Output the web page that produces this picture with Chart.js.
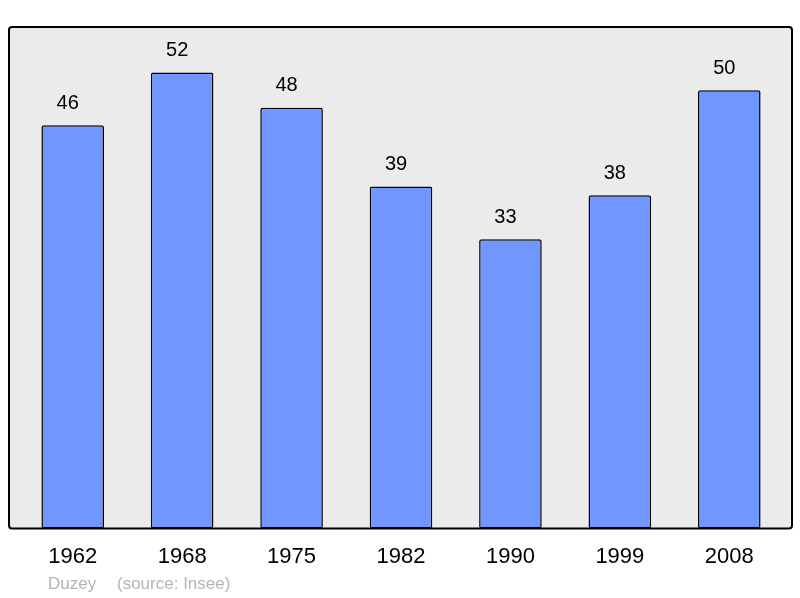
<!DOCTYPE html>
<html>
<head>
<meta charset="utf-8">
<script src="https://cdn.jsdelivr.net/npm/chart.js@4"></script>
<style>
  html, body { margin: 0; padding: 0; background: #ffffff; }
  #wrap { width: 800px; height: 598px; }
</style>
</head>
<body>
<div id="wrap"><canvas id="popChart" width="800" height="598"></canvas></div>
<script>
// Population of Duzey by census year
const years = ['1962', '1968', '1975', '1982', '1990', '1999', '2008'];
const population = [46, 52, 48, 39, 33, 38, 50];
const footerName = 'Duzey';
const footerSource = '(source: Insee)';

// Grey panel behind the bars, a bit wider than the chart area
const panelPlugin = {
    id: 'panel',
    beforeDraw(chart) {
        const { ctx, chartArea } = chart;
        const x0 = chartArea.left - 9;
        const x1 = chartArea.right + 8;
        const y0 = chartArea.top;
        const y1 = chartArea.bottom;
        ctx.save();
        ctx.beginPath();
        ctx.roundRect(x0, y0, x1 - x0, y1 - y0, 3);
        ctx.fillStyle = '#ebebeb';
        ctx.fill();
        ctx.lineWidth = 2;
        ctx.strokeStyle = '#000000';
        ctx.stroke();
        ctx.restore();
    }
};

// Value above each bar + footer caption
const labelPlugin = {
    id: 'valueLabels',
    afterDatasetsDraw(chart) {
        const { ctx } = chart;
        const meta = chart.getDatasetMeta(0);
        ctx.save();
        ctx.font = '20px "Liberation Sans", Arial, sans-serif';
        ctx.fillStyle = '#000000';
        ctx.textAlign = 'center';
        ctx.textBaseline = 'middle';
        meta.data.forEach((bar, i) => {
            ctx.fillText(String(population[i]), bar.x - 5, bar.y - 22);
        });
        ctx.font = '17px "Liberation Sans", Arial, sans-serif';
        ctx.fillStyle = '#b4b4b4';
        ctx.textAlign = 'left';
        ctx.fillText(footerName, 48, 584);
        ctx.fillText(footerSource, 117, 584);
        ctx.restore();
    }
};

function renderChart() {
    const ctx = document.getElementById('popChart').getContext('2d');
    new Chart(ctx, {
        type: 'bar',
        data: {
            labels: years,
            datasets: [{
                data: population,
                backgroundColor: '#7096ff',
                borderColor: '#000000',
                borderWidth: 1.5,
                borderRadius: 2,
                borderSkipped: false,
                barPercentage: 0.572,
                categoryPercentage: 1
            }]
        },
        options: {
            responsive: false,
            animation: false,
            layout: { padding: { left: 18, right: 16, top: 27, bottom: 13 } },
            plugins: {
                legend: { display: false },
                tooltip: { enabled: false }
            },
            scales: {
                x: {
                    offset: true,
                    grid: { display: false, drawTicks: false },
                    border: { display: false },
                    ticks: {
                        color: '#000000',
                        padding: 15,
                        font: { family: '"Liberation Sans", Arial, sans-serif', size: 22 }
                    }
                },
                y: {
                    display: false,
                    min: 0,
                    max: 57.2
                }
            }
        },
        plugins: [panelPlugin, labelPlugin]
    });
}

renderChart();
</script>
</body>
</html>
